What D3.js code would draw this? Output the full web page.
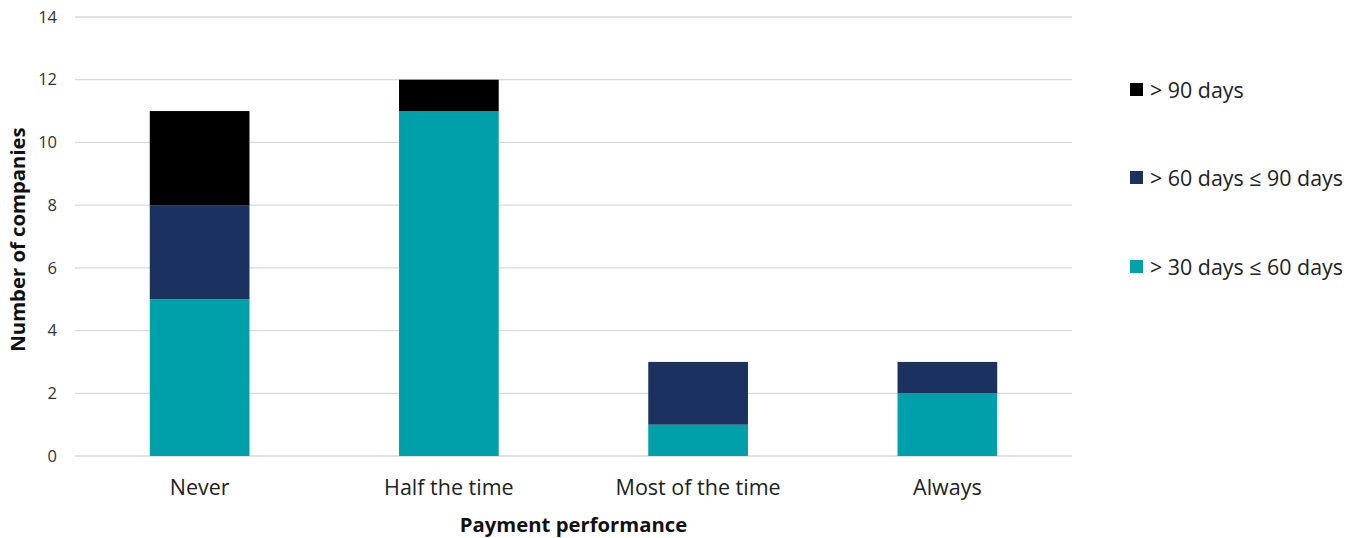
<!DOCTYPE html>
<html>
<head>
<meta charset="utf-8">
<script src="https://cdn.jsdelivr.net/npm/d3@7"></script>
<style>
  body { margin: 0; background: #fff; }
  svg { display: block; font-family: "Open Sans", "Noto Sans", sans-serif; }
</style>
</head>
<body>
<svg id="chart" width="1362" height="538"></svg>
<script>
// Payment performance categories and counts per overdue band
const categories = ["Never", "Half the time", "Most of the time", "Always"];
const seriesKeys = ["d30to60", "d60to90", "over90"];
const seriesLabels = ["> 30 days \u2264 60 days", "> 60 days \u2264 90 days", "> 90 days"];
const seriesColors = ["#00A0AB", "#1B3160", "#000000"];
const d30to60 = [5, 11, 1, 2];
const d60to90 = [3, 0, 2, 1];
const over90 = [3, 1, 0, 0];
const yTicks = [0, 2, 4, 6, 8, 10, 12, 14];

const rows = categories.map((c, i) => ({
  category: c,
  d30to60: d30to60[i],
  d60to90: d60to90[i],
  over90: over90[i]
}));

const svg = d3.select("#chart");
const margin = { left: 75, right: 290, top: 17, bottom: 82 };
const width = 1362, height = 538;
const plotW = width - margin.left - margin.right;
const plotH = height - margin.top - margin.bottom;

const x = d3.scaleBand().domain(categories).range([0, plotW])
  .paddingInner(0.6).paddingOuter(0.3);
const y = d3.scaleLinear().domain([0, 14]).range([plotH, 0]);

const g = svg.append("g").attr("transform", `translate(${margin.left},${margin.top})`);

// Horizontal gridlines
g.append("g").selectAll("line").data(yTicks).join("line")
  .attr("x1", 0).attr("x2", plotW)
  .attr("y1", d => y(d)).attr("y2", d => y(d))
  .attr("stroke", "#d9d9d9").attr("stroke-width", 1.3);

// Y axis labels
const yAxis = d3.axisLeft(y).tickValues(yTicks).tickSize(0).tickPadding(18);
const ya = g.append("g").call(yAxis);
ya.select(".domain").remove();
ya.selectAll("text").attr("font-size", 16.5).attr("fill", "#333")
  .attr("font-family", "\"Open Sans\", sans-serif");

// Stacked bars
const stacked = d3.stack().keys(seriesKeys)(rows);
g.append("g").selectAll("g").data(stacked).join("g")
  .attr("fill", (d, i) => seriesColors[i])
  .selectAll("rect").data(d => d).join("rect")
  .attr("x", d => x(d.data.category))
  .attr("width", x.bandwidth())
  .attr("y", d => y(d[1]))
  .attr("height", d => y(d[0]) - y(d[1]));

// X axis labels
const xAxis = d3.axisBottom(x).tickSize(0).tickPadding(24);
const xa = g.append("g").attr("transform", `translate(0,${plotH})`).call(xAxis);
xa.select(".domain").remove();
xa.selectAll("text").attr("font-size", 21.5).attr("fill", "#222")
  .attr("font-family", "\"Open Sans\", sans-serif");

// Axis titles
svg.append("text")
  .attr("x", margin.left + plotW / 2).attr("y", 532)
  .attr("text-anchor", "middle").attr("font-size", 20.3).attr("font-weight", "bold")
  .attr("fill", "#111").text("Payment performance");

svg.append("text")
  .attr("transform", `translate(25,${margin.top + plotH / 2 + 3}) rotate(-90)`)
  .attr("text-anchor", "middle").attr("font-size", 20.3).attr("font-weight", "bold")
  .attr("fill", "#111").text("Number of companies");

// Legend, top series first
const legendOrder = [2, 1, 0];
const legendY = [90, 178, 267];
const legend = svg.append("g").selectAll("g").data(legendOrder).join("g")
  .attr("transform", (d, i) => `translate(1130,${legendY[i]})`);
legend.append("rect").attr("x", 0).attr("y", -7).attr("width", 13).attr("height", 13)
  .attr("fill", d => seriesColors[d]);
legend.append("text").attr("x", 20).attr("y", 0).attr("dy", "0.35em")
  .attr("font-size", 21.4).attr("fill", "#222").text(d => seriesLabels[d]);
</script>
</body>
</html>
